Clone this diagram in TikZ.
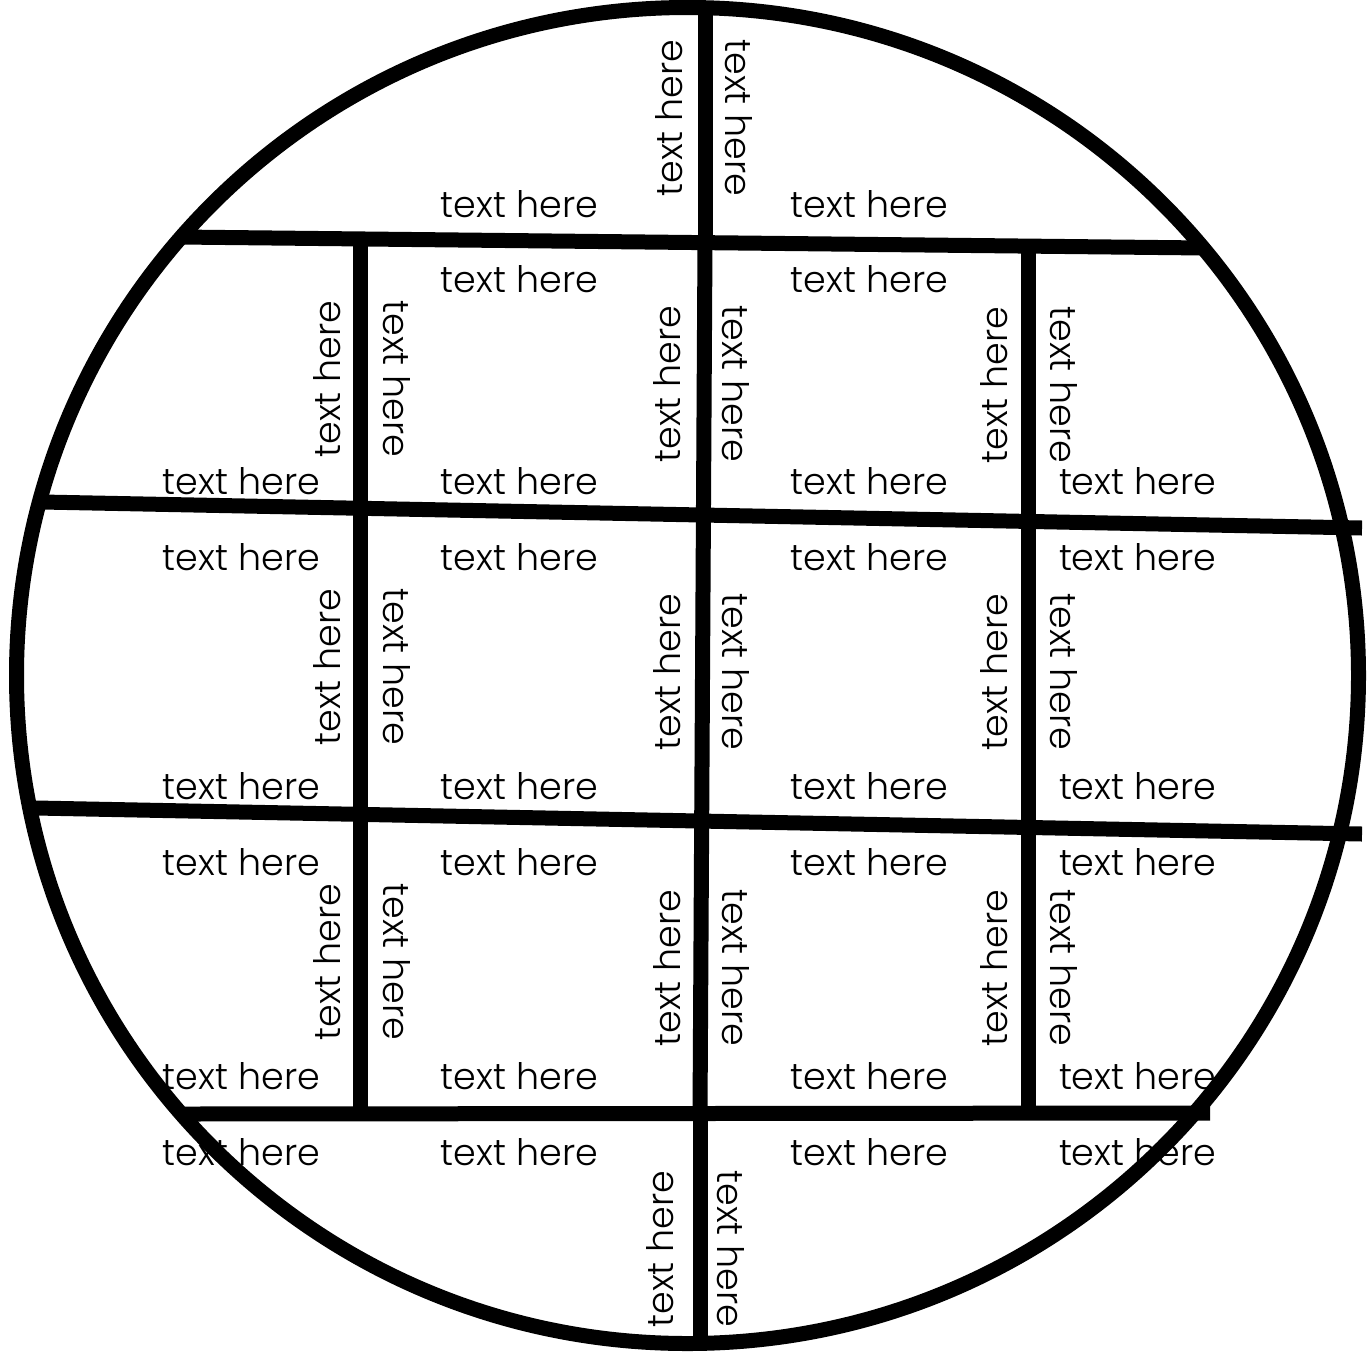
\documentclass[tikz,border=0pt]{standalone}
\usepackage{fontspec}
\usepackage{graphicx}
\setmainfont{Poppins Light}
\newcommand{\txh}{\resizebox{157pt}{27pt}{text here}}
\tikzset{
  lbl/.style={inner sep=0pt, anchor=base, text=black},
  upt/.style={lbl, rotate=90},
  downt/.style={lbl, rotate=-90},
  wall/.style={line width=15pt, line cap=butt, draw=black},
}
\begin{document}
\begin{tikzpicture}[x=1pt,y=-1pt]
\fill[white] (0,0) rectangle (1372,1355);
\useasboundingbox (0,0) rectangle (1372,1355);
% horizontal labels
\node[lbl] (t0b) at (519.5,217) {\txh};
\node[lbl] (t0c) at (869.5,217) {\txh};
\node[lbl] (t1a2) at (241.5,494) {\txh};
\node[lbl] (t1b1) at (519.5,292) {\txh};
\node[lbl] (t1b2) at (519.5,494) {\txh};
\node[lbl] (t1c1) at (869.5,292) {\txh};
\node[lbl] (t1c2) at (869.5,494) {\txh};
\node[lbl] (t1d2) at (1137.5,494) {\txh};
\node[lbl] (t2a1) at (241.5,570) {\txh};
\node[lbl] (t2a2) at (241.5,799) {\txh};
\node[lbl] (t2b1) at (519.5,570) {\txh};
\node[lbl] (t2b2) at (519.5,799) {\txh};
\node[lbl] (t2c1) at (869.5,570) {\txh};
\node[lbl] (t2c2) at (869.5,799) {\txh};
\node[lbl] (t2d1) at (1137.5,570) {\txh};
\node[lbl] (t2d2) at (1137.5,799) {\txh};
\node[lbl] (t3a1) at (241.5,875) {\txh};
\node[lbl] (t3a2) at (241.5,1089) {\txh};
\node[lbl] (t3b1) at (519.5,875) {\txh};
\node[lbl] (t3b2) at (519.5,1089) {\txh};
\node[lbl] (t3c1) at (869.5,875) {\txh};
\node[lbl] (t3c2) at (869.5,1089) {\txh};
\node[lbl] (t3d1) at (1137.5,875) {\txh};
\node[lbl] (t3d2) at (1137.5,1089) {\txh};
\node[lbl] (t4a) at (241.5,1165) {\txh};
\node[lbl] (t4b) at (519.5,1165) {\txh};
\node[lbl] (t4c) at (869.5,1165) {\txh};
\node[lbl] (t4d) at (1137.5,1165) {\txh};
% vertical labels
\node[upt] (v0u) at (682,118) {\txh};
\node[downt] (v0d) at (725,118) {\txh};
\node[upt] (v1lu) at (340,379) {\txh};
\node[downt] (v1ld) at (383,379) {\txh};
\node[upt] (v1mu) at (680,384) {\txh};
\node[downt] (v1md) at (722,384) {\txh};
\node[upt] (v1ru) at (1007,385) {\txh};
\node[downt] (v1rd) at (1050,385) {\txh};
\node[upt] (v2lu) at (340,667) {\txh};
\node[downt] (v2ld) at (383,667) {\txh};
\node[upt] (v2mu) at (680,672) {\txh};
\node[downt] (v2md) at (722,672) {\txh};
\node[upt] (v2ru) at (1007,672) {\txh};
\node[downt] (v2rd) at (1050,672) {\txh};
\node[upt] (v3lu) at (340,962) {\txh};
\node[downt] (v3ld) at (383,962) {\txh};
\node[upt] (v3mu) at (680,968) {\txh};
\node[downt] (v3md) at (722,968) {\txh};
\node[upt] (v3ru) at (1007,968) {\txh};
\node[downt] (v3rd) at (1050,968) {\txh};
\node[upt] (v4u) at (673,1249) {\txh};
\node[downt] (v4d) at (717,1249) {\txh};
% outline and walls
\draw[wall] (687.5,675.5) ellipse [x radius=671pt, y radius=668pt];
\draw[wall] (179,237) -- (1205,248);
\draw[wall] (42,502) -- (1362,528);
\draw[wall] (36,808) -- (1362,834);
\draw[wall] (180,1114) -- (1210,1113);
\draw[wall] (705,2) -- (705,241);
\draw[wall] (705,241) -- (700,1114);
\draw[wall] (700,1114) -- (700,1346);
\draw[wall] (360,238) -- (360,1114);
\draw[wall] (1028,247) -- (1028,1114);
\end{tikzpicture}
\end{document}
